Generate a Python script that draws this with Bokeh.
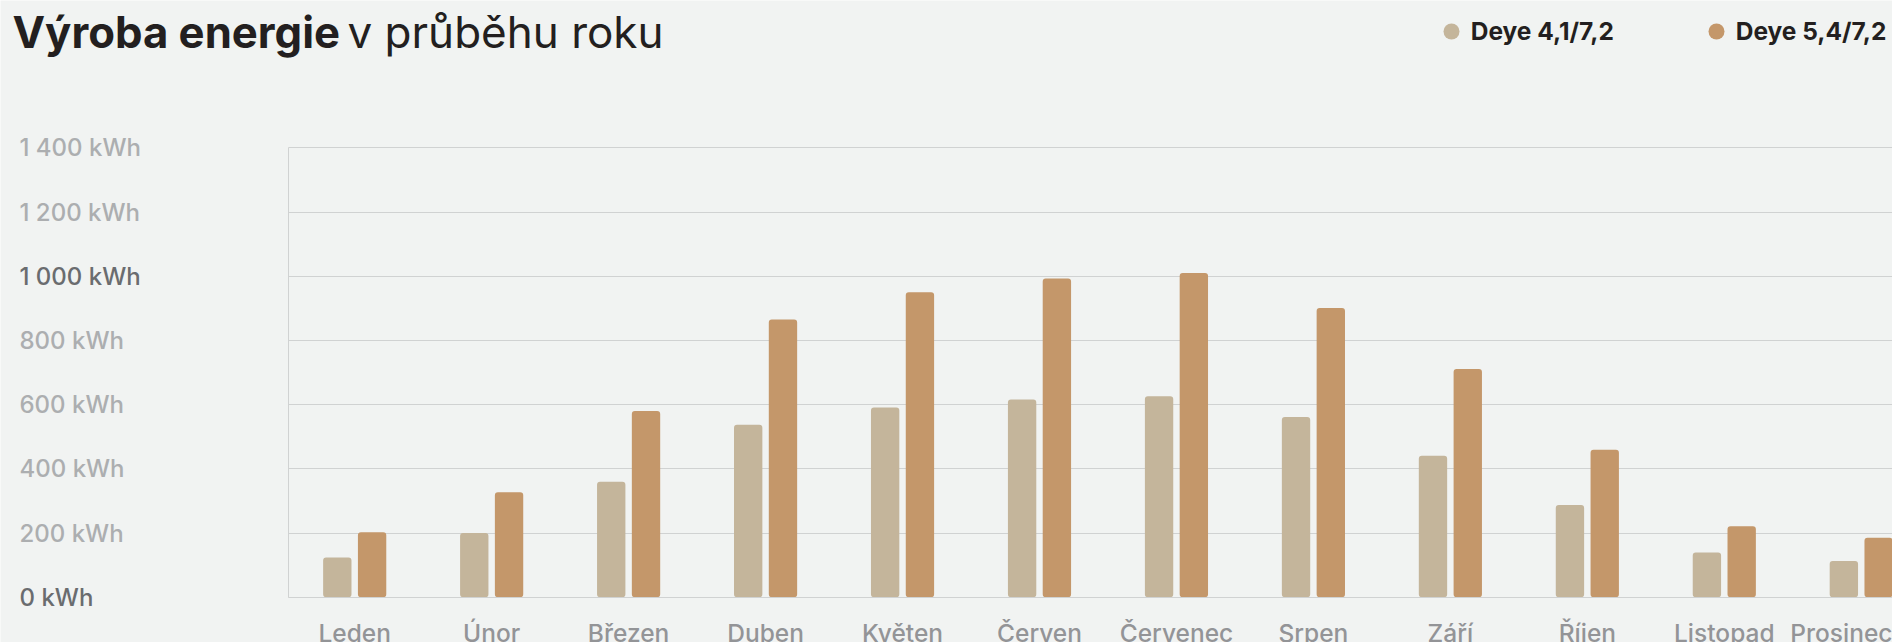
from bokeh.plotting import figure
from bokeh.models import (ColumnDataSource, Range1d, FixedTicker, Label,
                          Legend, LegendItem)
from bokeh.transform import dodge
from bokeh.embed import file_html
from bokeh.resources import INLINE

# ---------------- data ----------------
months = ["Leden", "Únor", "Březen", "Duben", "Květen", "Červen",
          "Červenec", "Srpen", "Září", "Říjen", "Listopad", "Prosinec"]
series_names = ["Deye 4,1/7,2", "Deye 5,4/7,2"]
deye_41 = [124, 200, 360, 537, 591, 616, 626, 561, 441, 287, 139, 113]
deye_54 = [202, 327, 580, 865, 950, 993, 1010, 901, 711, 459, 221, 185]
y_tick_values = [0, 200, 400, 600, 800, 1000, 1200, 1400]
y_tick_labels = ["0 kWh", "200 kWh", "400 kWh", "600 kWh", "800 kWh",
                 "1 000 kWh", "1 200 kWh", "1 400 kWh"]
highlighted_ticks = [0, 1000]
title_bold = "Výroba energie"
title_rest = "v průběhu roku"

# ---------------- style / layout ----------------
BG = "#f1f3f2"
TAN = "#c4b59b"
ORANGE = "#c4976a"
GRID = "#d0d2d2"
Y_LIGHT = "#acaeb0"
Y_DARK = "#6a6c6f"
X_LABEL = "#939497"
INK = "#231f20"
FONT = "Inter"
FONT_MEDIUM = "Inter Medium, Inter"

W, H = 1892, 642
PX_PER_CAT = 136.96      # distance between month groups
FIRST_CENTER_PX = 354.2  # x of the first month group
AXIS_LEFT_PX = 288       # x of the plot's left edge
ZERO_PX = 596.7          # y of 0 kWh
PX_PER_KWH = 449.4 / 1400

x_start = -FIRST_CENTER_PX / PX_PER_CAT
x_end = x_start + W / PX_PER_CAT
plot_left = x_start + AXIS_LEFT_PX / PX_PER_CAT
y_start = -(H - ZERO_PX) / PX_PER_KWH
y_end = y_start + H / PX_PER_KWH

source = ColumnDataSource(dict(idx=list(range(len(months))), month=months,
                               s1=deye_41, s2=deye_54))

p = figure(width=W, height=H, output_backend="svg", toolbar_location=None,
           x_range=Range1d(x_start, x_end), y_range=Range1d(y_start, y_end),
           min_border_left=0, min_border_right=0, min_border_top=0,
           min_border_bottom=0)
p.background_fill_color = BG
p.border_fill_color = BG
p.outline_line_color = None

off = 0.127
bw = 0.207
p.vbar(x=dodge("idx", -off, range=p.x_range), top="s1", width=bw, bottom=0,
       source=source, fill_color=TAN, line_color=None, border_radius=3)
p.vbar(x=dodge("idx", off, range=p.x_range), top="s2", width=bw, bottom=0,
       source=source, fill_color=ORANGE, line_color=None, border_radius=3)

# legend proxies (zero-size markers that only show in the legend)
r1 = p.scatter(x=dodge("idx", -off, range=p.x_range), y="s1", source=source,
               size=0, fill_color=TAN, line_color=None)
r2 = p.scatter(x=dodge("idx", off, range=p.x_range), y="s2", source=source,
               size=0, fill_color=ORANGE, line_color=None)

# x axis: pinned at 0 kWh, month names as tick labels
xa = p.xaxis[0]
xa.fixed_location = 0
xa.bounds = (plot_left, x_end)
xa.ticker = FixedTicker(ticks=list(range(len(months))))
xa.major_label_overrides = {i: m for i, m in enumerate(months)}
xa.major_label_standoff = 21
xa.major_tick_line_color = None
xa.minor_tick_line_color = None
xa.major_tick_in = 0
xa.major_tick_out = 0
xa.axis_line_color = GRID
xa.major_label_text_font = FONT_MEDIUM
xa.major_label_text_font_size = "24.5px"
xa.major_label_text_color = X_LABEL

# y axis: only the left plot edge line
ya = p.yaxis[0]
ya.fixed_location = plot_left
ya.bounds = (0, 1400)
ya.ticker = FixedTicker(ticks=[])
ya.major_tick_line_color = None
ya.minor_tick_line_color = None
ya.axis_line_color = GRID

p.xgrid.grid_line_color = None
p.ygrid.ticker = FixedTicker(ticks=y_tick_values)
p.ygrid.bounds = (0, 1400)
p.ygrid.cross_bounds = (plot_left, x_end)
p.ygrid.grid_line_color = GRID
p.ygrid.grid_line_width = 1

# y tick labels, left aligned
for v, t in zip(y_tick_values, y_tick_labels):
    p.add_layout(Label(x=19, y=v, x_units="screen", y_units="data", text=t,
                       text_align="left", text_baseline="middle",
                       text_font=FONT_MEDIUM, text_font_size="24px",
                       text_color=Y_DARK if v in highlighted_ticks else Y_LIGHT))

# title
p.add_layout(Label(x=12, y=H - 31.5, x_units="screen", y_units="screen", text=title_bold,
                   text_font=FONT, text_font_style="bold", text_font_size="43.7px",
                   text_color=INK, text_baseline="middle"))
p.add_layout(Label(x=347, y=H - 31.5, x_units="screen", y_units="screen", text=title_rest,
                   text_font=FONT, text_font_size="44px",
                   text_color=INK, text_baseline="middle"))

legend = Legend(items=[LegendItem(label=series_names[0], renderers=[r1]),
                       LegendItem(label=series_names[1], renderers=[r2])],
                orientation="horizontal", location=(1430.7, H - 10.7 - 40),
                glyph_width=40, glyph_height=40, label_standoff=0, label_width=148,
                spacing=77, padding=0, margin=0,
                background_fill_alpha=0, border_line_alpha=0,
                label_text_font=FONT, label_text_font_style="bold",
                label_text_font_size="24.5px", label_text_color=INK)
p.add_layout(legend)

open("out.html", "w").write(file_html(p, INLINE))
